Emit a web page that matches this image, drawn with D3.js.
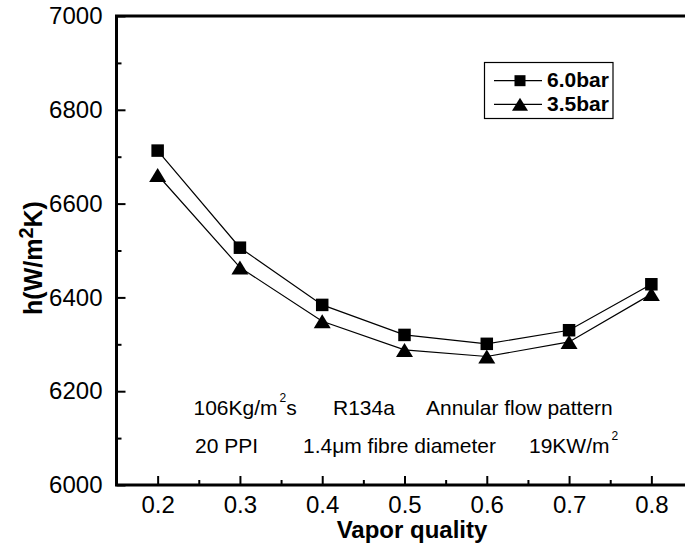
<!DOCTYPE html>
<html>
<head>
<meta charset="utf-8">
<script src="https://cdn.jsdelivr.net/npm/d3@7/dist/d3.min.js"></script>
<style>
  html, body { margin: 0; padding: 0; background: #fff; }
  svg { display: block; font-family: "Liberation Sans", Arial, sans-serif; }
</style>
</head>
<body>
<svg id="chart" width="685" height="550"></svg>
<script>
// ---- data ----
const quality = [0.2, 0.3, 0.4, 0.5, 0.6, 0.7, 0.8];
const h60bar = [6713, 6506, 6384, 6320, 6301, 6330, 6428];
const h35bar = [6661, 6464, 6349, 6288, 6274, 6305, 6407];
const seriesNames = ["6.0bar", "3.5bar"];
const yTicks = [6000, 6200, 6400, 6600, 6800, 7000];
const yMinorTicks = [6100, 6300, 6500, 6700, 6900];
const xTicks = [0.2, 0.3, 0.4, 0.5, 0.6, 0.7, 0.8];
const xMinorTicks = [0.25, 0.35, 0.45, 0.55, 0.65, 0.75];

const svg = d3.select("#chart");
const pLeft = 116.5, pRight = 692.5, pTop = 16, pBottom = 485;

const x = d3.scaleLinear().domain([0.15, 0.85]).range([pLeft, pRight]);
const y = d3.scaleLinear().domain([6000, 7000]).range([pBottom, pTop]);

// axes
const gy = svg.append("g").attr("transform", `translate(${pLeft},0)`)
  .call(d3.axisLeft(y).tickValues(yTicks).tickFormat(d3.format("d")).tickSizeInner(-9).tickSizeOuter(0).tickPadding(14));
const gyMinor = svg.append("g").attr("transform", `translate(${pLeft},0)`)
  .call(d3.axisLeft(y).tickValues(yMinorTicks).tickFormat("").tickSizeInner(-5).tickSizeOuter(0));
const gx = svg.append("g").attr("transform", `translate(0,${pBottom})`)
  .call(d3.axisBottom(x).tickValues(xTicks).tickFormat(d3.format(".1f")).tickSizeInner(-9).tickSizeOuter(0).tickPadding(11));
const gxMinor = svg.append("g").attr("transform", `translate(0,${pBottom})`)
  .call(d3.axisBottom(x).tickValues(xMinorTicks).tickFormat("").tickSizeInner(-5).tickSizeOuter(0));

[gy, gyMinor, gx, gxMinor].forEach(g => {
  g.select(".domain").remove();
  g.selectAll(".tick line").attr("stroke", "#000").attr("stroke-width", 2);
  g.selectAll(".tick text").attr("fill", "#000").style("font-size", "24px")
    .style("font-family", "'Liberation Sans', Arial, sans-serif");
});

// frame (left, bottom, top)
svg.append("path")
  .attr("d", `M685,${pTop} L${pLeft},${pTop} L${pLeft},${pBottom} L685,${pBottom}`)
  .attr("fill", "none").attr("stroke", "#000").attr("stroke-width", 3)
  .attr("stroke-linejoin", "miter");

// series
const line = d3.line().x((d, i) => x(quality[i])).y(d => y(d));
function triPath(cx, cy, w, h) {
  return `M${cx},${cy - h / 2} L${cx + w / 2},${cy + h / 2} L${cx - w / 2},${cy + h / 2} Z`;
}

svg.append("path").datum(h60bar).attr("d", line)
  .attr("fill", "none").attr("stroke", "#000").attr("stroke-width", 1.2);
svg.append("path").datum(h35bar).attr("d", line)
  .attr("fill", "none").attr("stroke", "#000").attr("stroke-width", 1.2);

const sq = 12.5;
svg.append("g").selectAll("rect").data(h60bar).join("rect")
  .attr("x", (d, i) => x(quality[i]) - sq / 2)
  .attr("y", d => y(d) - sq / 2)
  .attr("width", sq).attr("height", sq).attr("fill", "#000");

svg.append("g").selectAll("path").data(h35bar).join("path")
  .attr("d", (d, i) => triPath(x(quality[i]), y(d), 17, 14))
  .attr("fill", "#000");

// legend
const lg = svg.append("g");
lg.append("rect").attr("x", 484.5).attr("y", 62.5).attr("width", 128.5).attr("height", 56)
  .attr("fill", "#fff").attr("stroke", "#000").attr("stroke-width", 1.2);
const rows = [80.7, 104.3];
rows.forEach((ry, i) => {
  lg.append("line").attr("x1", 494).attr("x2", 542).attr("y1", ry).attr("y2", ry)
    .attr("stroke", "#000").attr("stroke-width", 1.2);
  if (i === 0) {
    lg.append("rect").attr("x", 520 - 5.5).attr("y", ry - 5.5).attr("width", 11).attr("height", 11).attr("fill", "#000");
  } else {
    lg.append("path").attr("d", triPath(520, ry, 16, 13)).attr("fill", "#000");
  }
  lg.append("text").attr("x", 547).attr("y", ry + 6.2)
    .style("font-size", "21px").style("font-weight", "bold").text(seriesNames[i]);
});

// annotations
const ann = svg.append("g").style("font-size", "21px").attr("fill", "#000");
const t1 = ann.append("text").attr("x", 193.5).attr("y", 415);
t1.append("tspan").text("106Kg/m");
t1.append("tspan").attr("dx", 2).attr("dy", -13).style("font-size", "12px").text("2");
t1.append("tspan").attr("dy", 13).text("s");
ann.append("text").attr("x", 333).attr("y", 415).text("R134a");
ann.append("text").attr("x", 426).attr("y", 415).text("Annular flow pattern");
ann.append("text").attr("x", 195).attr("y", 452.7).text("20 PPI");
ann.append("text").attr("x", 303).attr("y", 452.7).text("1.4\u03BCm fibre diameter");
const t2 = ann.append("text").attr("x", 529).attr("y", 452.7);
t2.append("tspan").text("19KW/m");
t2.append("tspan").attr("dx", 2).attr("dy", -13).style("font-size", "12px").text("2");

// axis titles
svg.append("text").attr("x", 412).attr("y", 538).attr("text-anchor", "middle")
  .style("font-size", "24px").style("font-weight", "bold").text("Vapor quality");

const yt = svg.append("text").attr("transform", "translate(42,258) rotate(-90)")
  .attr("text-anchor", "middle").style("font-size", "25px").style("font-weight", "bold");
yt.append("tspan").text("h(W/m");
yt.append("tspan").attr("dy", -9).style("font-size", "20px").text("2");
yt.append("tspan").attr("dy", 9).text("K)");
</script>
</body>
</html>
